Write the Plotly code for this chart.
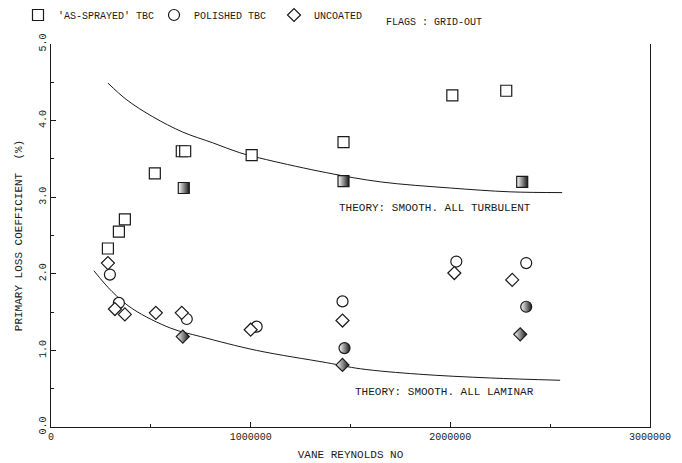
import plotly.graph_objects as go

# ---- data ----
sprayed_re = [285000, 340000, 370000, 520000, 655000, 672000, 1005000, 1465000, 2010000, 2280000]
sprayed_y = [2.33, 2.55, 2.71, 3.31, 3.60, 3.60, 3.55, 3.72, 4.33, 4.39]
sprayed_go_re = [665000, 1465000, 2360000]
sprayed_go_y = [3.12, 3.21, 3.20]

polished_re = [295000, 340000, 680000, 1030000, 1460000, 2030000, 2380000]
polished_y = [1.99, 1.62, 1.41, 1.31, 1.64, 2.16, 2.14]
polished_go_re = [1470000, 2380000]
polished_go_y = [1.03, 1.57]

uncoated_re = [285000, 320000, 370000, 525000, 655000, 1000000, 1460000, 2020000, 2310000]
uncoated_y = [2.14, 1.54, 1.47, 1.49, 1.49, 1.27, 1.39, 2.01, 1.92]
uncoated_go_re = [660000, 1460000, 2350000]
uncoated_go_y = [1.18, 0.81, 1.21]

turb_re = [285000, 380000, 510000, 660000, 810000, 946000, 1080000, 1380000, 1650000, 2000000, 2300000, 2560000]
turb_y = [4.49, 4.27, 4.05, 3.85, 3.71, 3.58, 3.49, 3.32, 3.20, 3.12, 3.07, 3.06]

lam_re = [215000, 305000, 410000, 600000, 750000, 1030000, 1380000, 1550000, 1840000, 2200000, 2550000]
lam_y = [2.04, 1.77, 1.54, 1.29, 1.18, 1.00, 0.84, 0.76, 0.69, 0.64, 0.61]

x_ticks = [0, 1000000, 2000000, 3000000]
x_ticktext = ["0", "1000000", "2000000", "3000000"]
y_ticks = [0, 1, 2, 3, 4, 5]
y_ticktext = ["0.0", "1.0", "2.0", "3.0", "4.0", "5.0"]

INK = "#1a1a1a"
FONT = "Liberation Mono"

fig = go.Figure()

# theory curves
fig.add_trace(go.Scatter(x=turb_re, y=turb_y, mode="lines", line=dict(color=INK, width=1, shape="spline"),
                         showlegend=False, hoverinfo="skip"))
fig.add_trace(go.Scatter(x=lam_re, y=lam_y, mode="lines", line=dict(color=INK, width=1, shape="spline"),
                         showlegend=False, hoverinfo="skip"))

def open_marker(symbol, size):
    return dict(symbol=symbol, size=size, color="white", line=dict(color=INK, width=1.2))

def half_marker(symbol, size):
    return dict(symbol=symbol, size=size, color="white",
                gradient=dict(type="horizontal", color=INK),
                line=dict(color=INK, width=1.2))

fig.add_trace(go.Scatter(x=sprayed_re, y=sprayed_y, mode="markers", name="'AS-SPRAYED' TBC",
                         marker=open_marker("square", 11), legend="legend2"))
fig.add_trace(go.Scatter(x=polished_re, y=polished_y, mode="markers", name="POLISHED TBC",
                         marker=open_marker("circle", 11), legend="legend3"))
fig.add_trace(go.Scatter(x=uncoated_re, y=uncoated_y, mode="markers", name="UNCOATED",
                         marker=open_marker("diamond", 10), legend="legend4"))
fig.add_trace(go.Scatter(x=sprayed_go_re, y=sprayed_go_y, mode="markers", showlegend=False,
                         marker=half_marker("square", 11)))
fig.add_trace(go.Scatter(x=polished_go_re, y=polished_go_y, mode="markers", showlegend=False,
                         marker=half_marker("circle", 11)))
fig.add_trace(go.Scatter(x=uncoated_go_re, y=uncoated_go_y, mode="markers", showlegend=False,
                         marker=half_marker("diamond", 10)))

def leg(xpx):
    return dict(orientation="h", xref="container", yref="container",
                x=xpx / 682, xanchor="left", y=1 - 15 / 463, yanchor="middle",
                font=dict(family=FONT, size=10, color=INK), itemwidth=30,
                bgcolor="rgba(0,0,0,0)", borderwidth=0)

fig.update_layout(
    width=682, height=463,
    margin=dict(l=51, r=32, t=44, b=36, autoexpand=False),
    paper_bgcolor="white", plot_bgcolor="white",
    font=dict(family=FONT, size=10, color=INK),
    showlegend=True,
    legend2=leg(18), legend3=leg(154), legend4=leg(274),
    xaxis=dict(range=[0, 3000000], tickvals=x_ticks, ticktext=x_ticktext,
               showgrid=False, zeroline=False, showline=True, linecolor=INK, linewidth=1.2,
               ticks="inside", ticklen=5, tickcolor=INK,
               minor=dict(dtick=500000, ticks="inside", ticklen=3, tickcolor=INK),
               tickfont=dict(family=FONT, size=10),
               title=dict(text="VANE REYNOLDS NO", font=dict(family=FONT, size=11), standoff=8)),
    yaxis=dict(range=[0, 5], tickvals=y_ticks, ticktext=y_ticktext, tickangle=-90,
               showgrid=False, zeroline=False, showline=True, linecolor=INK, linewidth=1.2,
               mirror=True,
               ticks="inside", ticklen=5, tickcolor=INK,
               minor=dict(dtick=0.5, ticks="inside", ticklen=3, tickcolor=INK),
               tickfont=dict(family=FONT, size=10),
               title=dict(text="PRIMARY LOSS COEFFICIENT  (%)", font=dict(family=FONT, size=11), standoff=13)),
    annotations=[
        dict(text="THEORY: SMOOTH. ALL TURBULENT", xref="paper", yref="paper", x=0.805, y=0.572,
             showarrow=False, font=dict(family=FONT, size=11, color=INK)),
        dict(text="THEORY: SMOOTH. ALL LAMINAR", xref="paper", yref="paper", x=0.81, y=0.07,
             showarrow=False, font=dict(family=FONT, size=11, color=INK)),
        dict(text="FLAGS : GRID-OUT", xref="paper", yref="paper", x=(434 - 51) / 599, y=(427 - 15) / 383,
             showarrow=False, font=dict(family=FONT, size=10, color=INK)),
    ],
)

fig.write_html("out.html")
